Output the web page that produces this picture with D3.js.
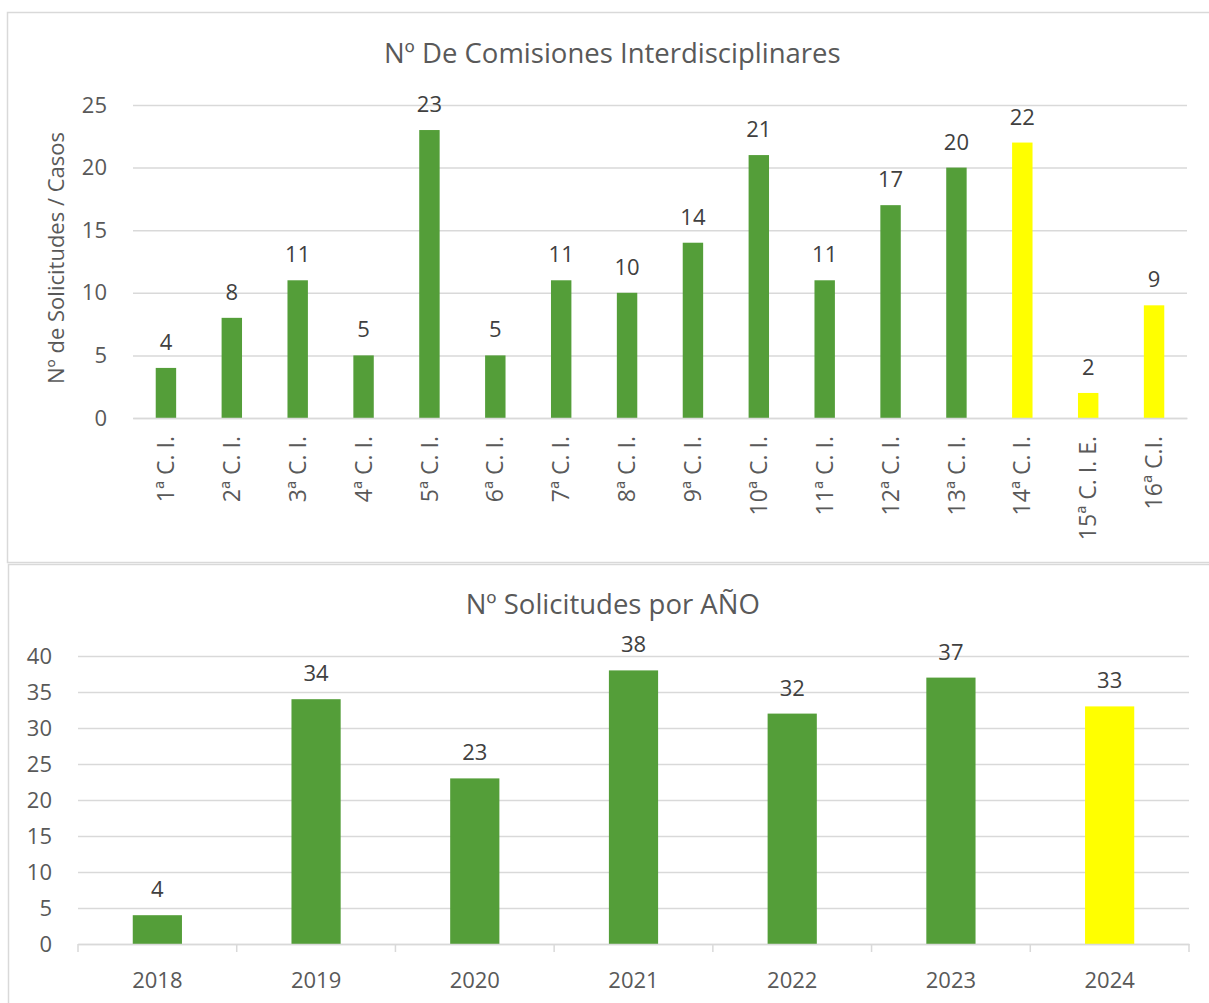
<!DOCTYPE html>
<html>
<head>
<meta charset="utf-8">
<script src="https://cdn.jsdelivr.net/npm/d3@7"></script>
<style>
  body { margin: 0; background: #fff; }
  text { font-family: "Open Sans", "Noto Sans", sans-serif; }
</style>
</head>
<body>
<svg id="chart" width="1209" height="1003"></svg>
<script>
// top chart data
const comisiones = ["1ª C. I.", "2ª C. I.", "3ª C. I.", "4ª C. I.", "5ª C. I.", "6ª C. I.", "7ª C. I.", "8ª C. I.",
  "9ª C. I.", "10ª C. I.", "11ª C. I.", "12ª C. I.", "13ª C. I.", "14ª C. I.", "15ª C. I. E.", "16ª C.I."];
const casos = [4, 8, 11, 5, 23, 5, 11, 10, 14, 21, 11, 17, 20, 22, 2, 9];
const casosHighlight = [false, false, false, false, false, false, false, false, false, false, false, false, false, true, true, true];
const ticksTop = [0, 5, 10, 15, 20, 25];

// bottom chart data
const years = ["2018", "2019", "2020", "2021", "2022", "2023", "2024"];
const solicitudes = [4, 34, 23, 38, 32, 37, 33];
const yearsHighlight = [false, false, false, false, false, false, true];
const ticksBottom = [0, 5, 10, 15, 20, 25, 30, 35, 40];

const GREEN = "#549E39";
const YELLOW = "#FFFF00";
const GRID = "#d9d9d9";
const LABEL = "#595959";
const VALUE = "#404040";

const svg = d3.select("#chart");

function drawChart(opts) {
  const { frame, title, cats, values, highlight, ticks, x0, x1, yTop, yBottom, titleY, rotateLabels, tickMarks, yTitle } = opts;

  svg.append("rect")
    .attr("x", frame.x).attr("y", frame.y)
    .attr("width", frame.w).attr("height", frame.h)
    .attr("fill", "#fff").attr("stroke", GRID).attr("stroke-width", 1.5);

  const xScale = d3.scaleBand().domain(cats).range([x0, x1]).paddingInner(0.69).paddingOuter(0.345);
  const yScale = d3.scaleLinear().domain([0, d3.max(ticks)]).range([yBottom, yTop]);

  // gridlines + y axis labels
  const yAxis = svg.append("g")
    .attr("transform", `translate(${x0},0)`)
    .call(d3.axisLeft(yScale).tickValues(ticks).tickSize(-(x1 - x0)).tickPadding(26));
  yAxis.select(".domain").remove();
  yAxis.selectAll(".tick line").attr("stroke", GRID).attr("stroke-width", 1.5);
  yAxis.selectAll(".tick text").attr("fill", LABEL).style("font-size", "22px");

  // bars
  svg.append("g").selectAll("rect")
    .data(values)
    .join("rect")
    .attr("x", (d, i) => xScale(cats[i]))
    .attr("y", (d) => yScale(d))
    .attr("width", xScale.bandwidth())
    .attr("height", (d) => yBottom - yScale(d))
    .attr("fill", (d, i) => highlight[i] ? YELLOW : GREEN);

  // value labels
  svg.append("g").selectAll("text")
    .data(values)
    .join("text")
    .attr("x", (d, i) => xScale(cats[i]) + xScale.bandwidth() / 2)
    .attr("y", (d) => yScale(d) - 18)
    .attr("text-anchor", "middle")
    .attr("fill", VALUE)
    .style("font-size", "22px")
    .text((d) => d);

  // x axis
  const xAxis = svg.append("g")
    .attr("transform", `translate(0,${yBottom})`)
    .call(d3.axisBottom(xScale).tickSize(0));
  xAxis.select(".domain").attr("stroke", GRID).attr("stroke-width", 1.5);
  xAxis.selectAll(".tick text").attr("fill", LABEL).style("font-size", "22px");

  if (rotateLabels) {
    xAxis.selectAll(".tick text")
      .style("font-size", "23px")
      .attr("transform", "rotate(-90)")
      .attr("text-anchor", "end")
      .attr("x", -18)
      .attr("y", 0)
      .attr("dy", "0.35em");
  } else {
    xAxis.selectAll(".tick text").attr("dy", 0).attr("y", 44);
  }

  if (tickMarks) {
    const bounds = cats.map((c) => xScale(c) - xScale.step() * 0.345).concat([x1]);
    svg.append("g").selectAll("line")
      .data(bounds)
      .join("line")
      .attr("x1", (d) => d).attr("x2", (d) => d)
      .attr("y1", yBottom).attr("y2", yBottom + 8)
      .attr("stroke", GRID).attr("stroke-width", 1.5);
  }

  svg.append("text")
    .attr("x", (frame.x + 1209) / 2 + 4)
    .attr("y", titleY)
    .attr("text-anchor", "middle")
    .attr("fill", LABEL)
    .style("font-size", "27.5px")
    .text(title);

  if (yTitle) {
    svg.append("text")
      .attr("transform", `translate(${yTitle.x},${yTitle.y}) rotate(-90)`)
      .attr("text-anchor", "middle")
      .attr("fill", LABEL)
      .style("font-size", "22px")
      .text(yTitle.text);
  }
}

drawChart({
  frame: { x: 7.5, y: 12.5, w: 1215, h: 550 },
  title: "Nº De Comisiones Interdisciplinares",
  cats: comisiones, values: casos, highlight: casosHighlight, ticks: ticksTop,
  x0: 133, x1: 1187, yTop: 105, yBottom: 418, titleY: 63,
  rotateLabels: true, tickMarks: false,
  yTitle: { x: 64, y: 258, text: "Nº de Solicitudes / Casos" }
});

drawChart({
  frame: { x: 8.5, y: 564.5, w: 1215, h: 460 },
  title: "Nº Solicitudes por AÑO",
  cats: years, values: solicitudes, highlight: yearsHighlight, ticks: ticksBottom,
  x0: 78, x1: 1189, yTop: 656, yBottom: 944, titleY: 614,
  rotateLabels: false, tickMarks: true
});
</script>
</body>
</html>
